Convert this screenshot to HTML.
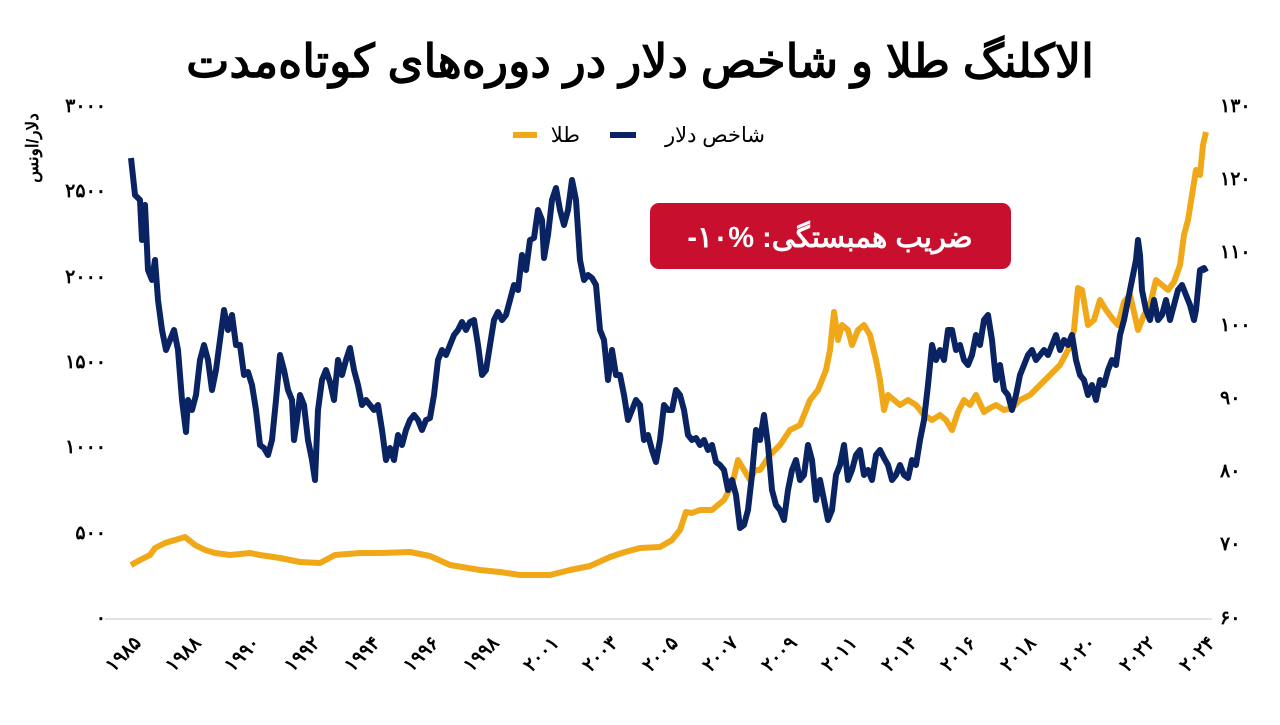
<!DOCTYPE html>
<html><head><meta charset="utf-8"><style>
body{margin:0;width:1280px;height:720px;background:#fff;overflow:hidden;font-family:"Liberation Sans","Noto Sans CJK SC",sans-serif}
</style></head><body>
<svg width="1280" height="720" xmlns="http://www.w3.org/2000/svg" font-family="Liberation Sans, Noto Sans CJK SC, sans-serif">
<text x="640" y="77" text-anchor="middle" font-size="46" font-weight="bold" fill="#000" direction="rtl">الاکلنگ طلا و شاخص دلار در دوره‌های کوتاه‌مدت</text>
<line x1="105" y1="619" x2="1212" y2="619" stroke="#d9d9d9" stroke-width="1.5"/>
<g font-size="19" font-weight="bold" fill="#000" text-anchor="end">
<text x="106" y="112">۳۰۰۰</text><text x="106" y="197">۲۵۰۰</text><text x="106" y="283">۲۰۰۰</text><text x="106" y="368">۱۵۰۰</text><text x="106" y="453">۱۰۰۰</text><text x="106" y="539">۵۰۰</text><text x="106" y="624">۰</text>
</g>
<g font-size="19" font-weight="bold" fill="#000" text-anchor="start">
<text x="1220" y="112">۱۳۰</text><text x="1220" y="185">۱۲۰</text><text x="1220" y="258">۱۱۰</text><text x="1220" y="331">۱۰۰</text><text x="1220" y="404">۹۰</text><text x="1220" y="477">۸۰</text><text x="1220" y="550">۷۰</text><text x="1220" y="624">۶۰</text>
</g>
<text transform="translate(38,148) rotate(-90)" text-anchor="middle" font-size="17" font-weight="bold" fill="#000" direction="rtl">دلار/اونس</text>
<g font-size="19" font-weight="bold" fill="#000" text-anchor="end">
<text transform="translate(142,644) rotate(-45)">۱۹۸۵</text>
<text transform="translate(202,644) rotate(-45)">۱۹۸۸</text>
<text transform="translate(261,644) rotate(-45)">۱۹۹۰</text>
<text transform="translate(321,644) rotate(-45)">۱۹۹۲</text>
<text transform="translate(381,644) rotate(-45)">۱۹۹۴</text>
<text transform="translate(440,644) rotate(-45)">۱۹۹۶</text>
<text transform="translate(500,644) rotate(-45)">۱۹۹۸</text>
<text transform="translate(560,644) rotate(-45)">۲۰۰۱</text>
<text transform="translate(619,644) rotate(-45)">۲۰۰۳</text>
<text transform="translate(679,644) rotate(-45)">۲۰۰۵</text>
<text transform="translate(739,644) rotate(-45)">۲۰۰۷</text>
<text transform="translate(798,644) rotate(-45)">۲۰۰۹</text>
<text transform="translate(858,644) rotate(-45)">۲۰۱۱</text>
<text transform="translate(918,644) rotate(-45)">۲۰۱۴</text>
<text transform="translate(977,644) rotate(-45)">۲۰۱۶</text>
<text transform="translate(1037,644) rotate(-45)">۲۰۱۸</text>
<text transform="translate(1097,644) rotate(-45)">۲۰۲۰</text>
<text transform="translate(1156,644) rotate(-45)">۲۰۲۲</text>
<text transform="translate(1216,644) rotate(-45)">۲۰۲۴</text>
</g>
<line x1="513" y1="135" x2="537" y2="135" stroke="#f0a818" stroke-width="6"/>
<text x="580" y="142" text-anchor="end" font-size="21" fill="#000">طلا</text>
<line x1="610" y1="135" x2="636" y2="135" stroke="#0a2463" stroke-width="6"/>
<text x="765" y="142" text-anchor="end" font-size="21" fill="#000">شاخص دلار</text>
<polyline fill="none" stroke="#f0a818" stroke-width="6" stroke-linejoin="round" points="131,565 140,560 150,555 155,548 165,543 175,540 185,537 195,545 205,550 215,553 230,555 250,553 260,555 280,558 300,562 320,563 335,555 360,553 380,553 410,552 430,556 450,565 480,570 500,572 520,575 550,575 570,570 590,566 610,557 625,552 640,548 660,547 672,540 680,530 686,512 692,513 700,510 712,510 724,500 732,485 738,460 744,470 750,480 755,470 760,470 770,455 780,445 790,430 800,425 810,400 818,390 826,370 830,350 834,312 838,340 842,325 848,330 852,345 858,330 864,325 870,335 876,360 880,380 884,410 888,395 894,400 900,405 908,400 916,405 924,415 932,420 940,415 946,420 952,430 958,412 964,400 970,405 976,395 984,412 990,408 996,405 1004,410 1012,408 1020,400 1030,395 1040,385 1050,375 1060,365 1068,350 1074,330 1078,288 1082,290 1088,325 1094,320 1100,300 1106,310 1112,318 1118,325 1124,302 1130,295 1134,312 1138,330 1144,315 1150,305 1156,280 1162,285 1168,290 1174,282 1180,265 1184,235 1188,220 1192,195 1196,170 1200,175 1203,145 1206,132"/>
<polyline fill="none" stroke="#0a2463" stroke-width="6" stroke-linejoin="round" points="131,158 135,195 140,200 142,240 145,205 148,270 152,280 155,260 158,300 162,330 166,350 170,340 174,330 178,350 182,400 186,432 188,400 192,410 196,395 200,360 204,345 208,360 212,390 216,370 220,340 224,310 228,330 232,315 236,345 240,345 244,375 248,372 252,385 256,410 260,445 264,448 268,455 272,440 276,400 280,355 284,370 288,390 292,400 294,440 297,420 300,395 304,405 308,440 312,460 315,480 318,410 322,380 326,370 330,382 334,400 338,360 342,375 346,360 350,348 354,370 358,385 362,405 366,400 370,405 374,410 378,405 382,430 386,460 390,448 394,460 398,435 402,445 406,430 410,420 414,415 418,420 422,430 426,420 430,418 434,395 438,360 442,350 446,355 450,345 454,335 458,330 462,322 466,330 470,322 474,320 478,345 482,375 486,370 490,345 494,320 498,312 502,320 506,315 510,300 514,285 518,290 522,255 526,270 530,240 534,238 538,210 542,220 544,258 548,235 552,200 556,188 560,210 564,225 568,210 572,180 576,200 580,260 584,280 588,275 592,278 596,285 600,330 604,340 608,380 612,350 616,375 620,375 624,395 628,420 632,410 636,400 640,405 644,440 648,435 652,450 656,462 660,440 664,405 668,410 672,410 676,390 680,395 684,410 688,435 692,440 696,438 700,445 704,440 708,450 712,445 716,462 720,465 724,470 728,490 732,480 736,495 740,528 744,525 748,510 752,475 756,430 760,440 764,415 768,445 772,490 776,505 780,510 784,520 788,490 792,470 796,460 800,480 804,475 808,445 812,460 816,500 820,480 824,500 828,520 832,510 836,475 840,465 844,445 848,480 852,470 856,455 860,450 864,475 868,470 872,480 876,455 880,450 884,458 888,465 892,480 896,475 900,465 904,475 908,478 912,460 916,465 920,440 924,420 928,385 932,345 936,360 940,350 944,360 948,330 952,330 956,350 960,345 964,360 968,365 972,355 976,335 980,345 984,320 988,315 992,340 996,380 1000,365 1004,390 1008,395 1012,410 1016,395 1020,375 1024,365 1028,355 1032,350 1036,360 1040,355 1044,350 1048,355 1052,345 1056,335 1060,350 1064,340 1068,345 1072,335 1076,360 1080,375 1084,380 1088,395 1092,385 1096,400 1100,380 1104,385 1108,370 1112,360 1116,365 1120,335 1124,320 1128,300 1132,280 1136,260 1138,240 1140,255 1142,290 1146,310 1150,320 1154,300 1158,320 1162,315 1166,300 1170,320 1174,305 1178,290 1182,285 1186,295 1190,305 1194,320 1196,310 1200,270 1204,268 1206,272"/>
<rect x="650" y="203" width="361" height="66" rx="9" fill="#c8102e"/>
<text x="830" y="247" text-anchor="middle" font-size="29" font-weight="bold" fill="#fff" direction="rtl">ضریب همبستگی: %۱۰-</text>
</svg>
</body></html>
